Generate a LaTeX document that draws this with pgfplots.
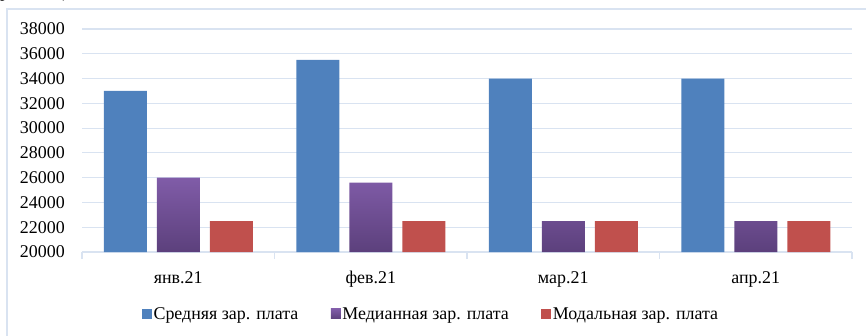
\documentclass[border=0pt]{standalone}
\usepackage{fontspec}
\setmainfont{Liberation Serif}
\usepackage{pgfplots}
\pgfplotsset{compat=1.18}
\definecolor{gridblue}{RGB}{217,227,241}
\definecolor{barblue}{RGB}{79,129,189}
\definecolor{barred}{RGB}{192,80,77}
\definecolor{purptop}{RGB}{128,92,168}
\definecolor{purpbot}{RGB}{92,64,124}
\begin{document}
\begin{tikzpicture}[x=1bp,y=1bp]
\useasboundingbox (0,0) rectangle (866,335);
\clip (0,0) rectangle (866,335);
% tail of the preceding line of text
\node[anchor=base west, inner sep=0pt, font=\fontsize{18}{20}\selectfont] at (0,337) {рабочих),};
% chart frame
\draw[gridblue, line width=1.2bp] (7,326) rectangle (880,-10);
\begin{axis}[
  at={(82bp,83bp)}, anchor=south west,
  scale only axis, width=770bp, height=223bp,
  xmin=-0.5, xmax=3.5, ymin=20000, ymax=38000,
  ybar=10bp, bar width=43bp,
  xtick={0,1,2,3},
  xticklabels={янв.21,фев.21,мар.21,апр.21},
  minor xtick={-0.5,0.5,1.5,2.5,3.5},
  ytick={20000,22000,...,38000},
  ymajorgrids, grid style={gridblue, line width=1.2bp},
  axis x line*=bottom, axis y line*=left,
  x axis line style={gridblue, line width=1.2bp, -},
  y axis line style={draw=none},
  tick align=outside, major tick length=0pt, minor tick length=7bp,
  minor x tick style={gridblue, line width=1.2bp},
  scaled y ticks=false,
  /pgf/number format/.cd, 1000 sep={}, fixed, assume math mode=true,
  /pgfplots/.cd,
  ticklabel style={font=\fontsize{18}{20}\selectfont},
  yticklabel style={anchor=east, inner sep=0pt, xshift=-17bp},
  xticklabel style={anchor=base, inner sep=0pt, yshift=-31bp},
  legend style={at={(0.453,-0.278)}, anchor=center, legend columns=-1,
    draw=none, fill=none, font=\fontsize{18}{20}\selectfont,
    /tikz/every even column/.append style={column sep=31bp},
    nodes={inner sep=1.5bp}},
  legend image code/.code={\path[#1, draw=none] (0bp,-5bp) rectangle (10bp,5bp);},
]
\addplot[fill=barblue, draw=none] coordinates {(0,33000) (1,35500) (2,34000) (3,34000)};
\addplot[top color=purptop, bottom color=purpbot, draw=none] coordinates {(0,26000) (1,25600) (2,22500) (3,22500)};
\addplot[fill=barred, draw=none] coordinates {(0,22500) (1,22500) (2,22500) (3,22500)};
\legend{Средняя зар. плата, Медианная зар. плата, Модальная зар. плата}
\end{axis}
\end{tikzpicture}
\end{document}
